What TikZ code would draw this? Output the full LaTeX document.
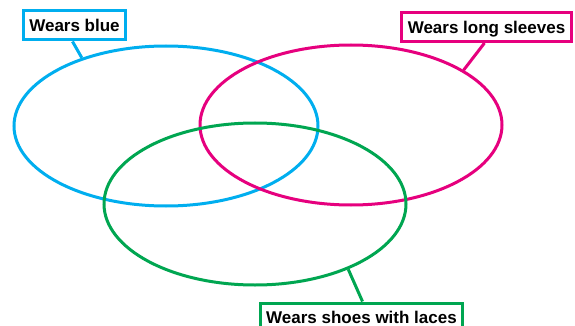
\documentclass[tikz,border=0pt]{standalone}
\usepackage{fontspec}
\setmainfont{Liberation Sans}
\usetikzlibrary{shapes.geometric}
\definecolor{setblue}{RGB}{0,174,239}
\definecolor{setpink}{RGB}{230,0,126}
\definecolor{setgreen}{RGB}{0,166,81}
\tikzset{
  setring/.style={ellipse, draw=#1, line width=3pt, inner sep=0pt},
  tag/.style={draw=#1, line width=3pt, fill=white, text=black, inner xsep=6pt,
    minimum height=29pt, text height=12.4pt, text depth=0pt,
    font=\fontsize{17}{19}\selectfont\bfseries},
  leader/.style={draw=#1, line width=3pt}
}
\begin{document}
\begin{tikzpicture}[x=1pt,y=-1pt]
  \useasboundingbox (0,0) rectangle (575,326);
  \clip (0,0) rectangle (575,326);
  \fill[white] (0,0) rectangle (575,326);

  % the three sets
  \node[setring=setblue, minimum width=304pt, minimum height=160pt] (blue) at (166,126) {};
  \node[setring=setpink, minimum width=302pt, minimum height=160pt] (pink) at (351,125) {};
  \node[setring=setgreen, minimum width=302pt, minimum height=162pt] (green) at (255,204) {};

  % labels
  \node[tag=setblue] (bluetag) at (74.5,25.5) {Wears blue};
  \node[tag=setpink] (pinktag) at (486.5,27) {Wears long sleeves};
  \node[tag=setgreen] (greentag) at (361.5,317.5) {Wears shoes with laces};

  % leaders from label to set
  \draw[leader=setblue] ([xshift=-2pt]bluetag.south) -- (blue.141);
  \draw[leader=setpink] ([xshift=-2pt]pinktag.south) -- (pink.26);
  \draw[leader=setgreen] ([xshift=1pt]greentag.north) -- (green.-35.5);
\end{tikzpicture}
\end{document}
